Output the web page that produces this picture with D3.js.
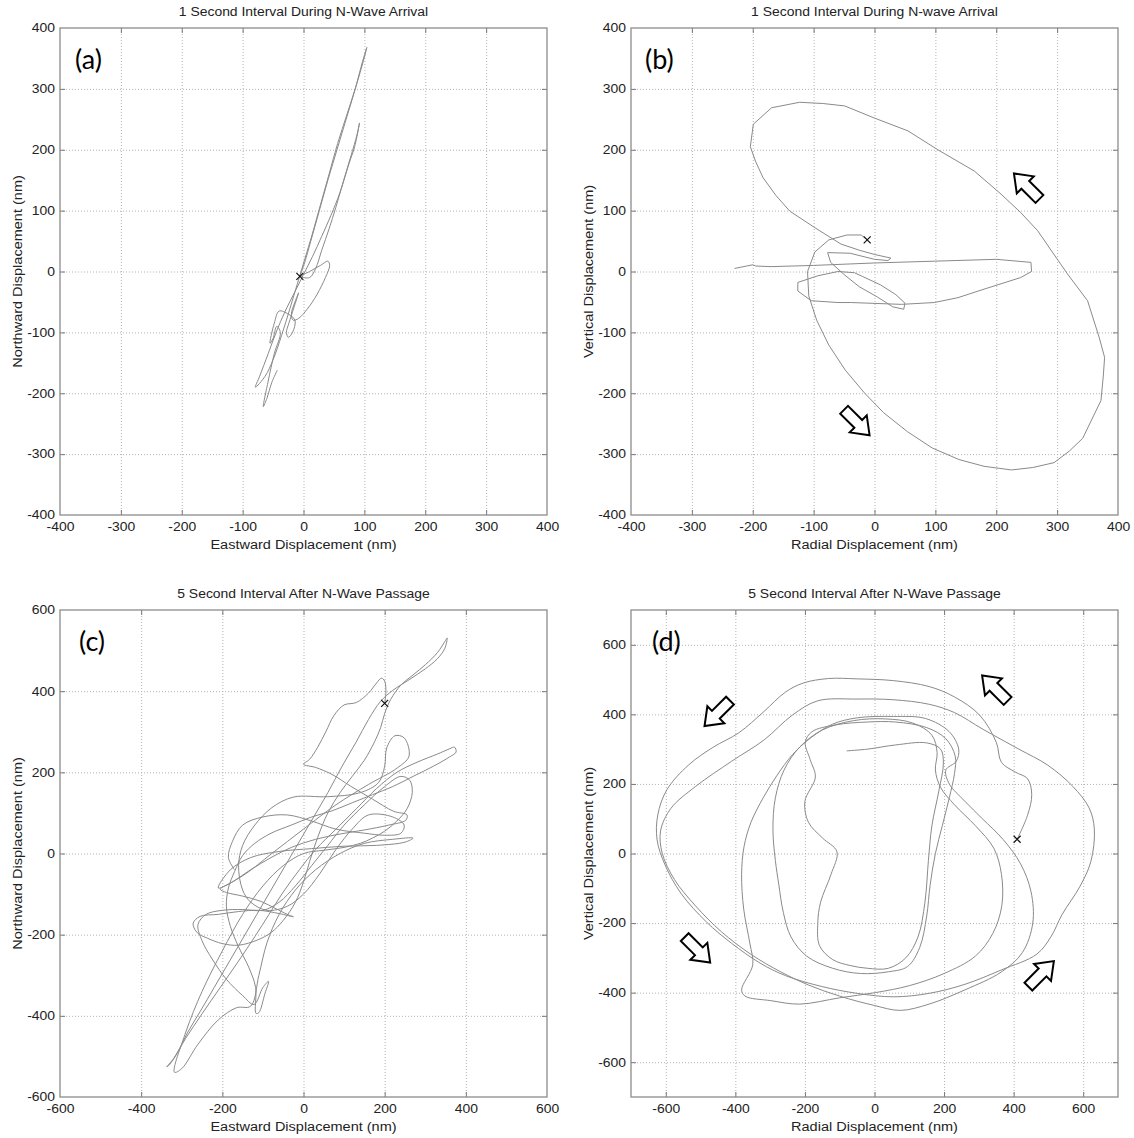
<!DOCTYPE html>
<html>
<head>
<meta charset="utf-8">
<script src="https://cdn.jsdelivr.net/npm/d3@7"></script>
<style>
  body { margin: 0; background: #fff; }
  svg { display: block; }
  text { font-family: "Liberation Sans", Arial, Helvetica, sans-serif; fill: #222; }
  .grid line { stroke: #b4b4b4; stroke-dasharray: 1, 2; }
  .grid .domain, .ticks .domain, .labels .domain { display: none; }
  .ticks line { stroke: #777; }
  .tag { font-family: Lato, "Open Sans", sans-serif; fill: #000; }
</style>
</head>
<body>
<svg id="fig" width="1134" height="1138"></svg>
<script>
// tick values
const ticks400 = [-400, -300, -200, -100, 0, 100, 200, 300, 400];
const ticks600 = [-600, -400, -200, 0, 200, 400, 600];

// particle motion (nm), [x, y]
const pathA = [
  [-6,-8],[2,15],[12,50],[26,100],[40,150],[55,200],[70,250],[85,300],[97,345],[104,368],
  [100,352],[88,310],[72,260],[56,210],[42,160],[28,110],[14,60],[2,20],[-10,-20],[-22,-60],
  [-36,-105],[-50,-145],[-63,-172],[-79,-190],[-72,-172],[-58,-135],[-45,-100],[-30,-65],
  [-15,-35],[0,-5],[15,25],[30,58],[45,92],[60,130],[75,178],[84,205],[92,244],[88,225],
  [78,190],[66,150],[53,105],[42,70],[30,35],[20,5],[10,-10],[-4,-8],[10,0],[28,10],[40,17],
  [43,10],[36,-10],[22,-38],[6,-62],[-8,-77],[-17,-80],[-20,-70],[-14,-50],[-8,-35],[-16,-60],
  [-24,-85],[-28,-100],[-25,-108],[-18,-100],[-14,-80],[-25,-70],[-40,-65],[-48,-85],[-55,-118],
  [-50,-110],[-44,-90],[-38,-100],[-48,-135],[-58,-180],[-66,-222],[-60,-208],[-52,-182],[-43,-162]
];
const pathB = [
  [-12,52],[-22,60],[-45,60],[-75,52],[-98,32],[-110,0],[-108,-40],[-95,-80],[-75,-121],
  [-48,-162],[-16,-200],[15,-232],[54,-263],[95,-290],[139,-309],[180,-320],[225,-326],
  [260,-322],[295,-314],[320,-295],[342,-274],[372,-212],[376,-170],[378,-141],[369,-108],
  [350,-48],[317,-4],[290,35],[268,67],[240,97],[208,127],[164,165],[104,200],[55,231],[0,252],
  [-49,272],[-85,276],[-123,278],[-169,269],[-199,242],[-204,205],[-195,180],[-183,154],
  [-162,125],[-139,99],[-98,72],[-55,45],[-25,35],[0,28],[27,22],[22,18],[0,20],[-40,30],
  [-77,31],[-72,15],[-50,-5],[-25,-25],[5,-42],[30,-58],[48,-62],[50,-52],[35,-38],[10,-22],
  [-20,-8],[-33,-2],[-60,0],[-93,-7],[-126,-18],[-126,-32],[-104,-48],[-60,-51],[-38,-51],
  [44,-54],[98,-51],[137,-43],[180,-29],[240,-10],[258,0],[257,15],[200,20],[100,17],[0,14],
  [-100,10],[-170,8],[-195,9],[-200,11],[-230,5]
];
const pathC = [
  [200,370],[203,398],[200,425],[192,432],[180,420],[160,395],[130,372],[100,366],[75,340],
  [55,300],[35,262],[15,232],[0,220],[30,212],[70,195],[116,166],[170,134],[222,104],[255,95],
  [252,82],[210,70],[150,58],[90,48],[30,35],[-30,15],[-80,-10],[-130,-40],[-175,-70],[-205,-88],
  [-190,-96],[-150,-105],[-105,-118],[-70,-135],[-40,-150],[-25,-156],[-60,-148],[-110,-140],
  [-160,-143],[-210,-150],[-255,-155],[-272,-172],[-262,-195],[-236,-209],[-200,-222],[-160,-226],
  [-113,-213],[-80,-195],[-50,-165],[-20,-120],[0,-70],[15,-20],[35,40],[60,100],[90,150],
  [120,190],[150,230],[175,275],[190,310],[200,345],[215,380],[240,415],[270,440],[300,465],
  [330,495],[350,525],[354,531],[348,505],[330,480],[300,455],[260,428],[220,402],[190,375],
  [160,330],[130,275],[95,215],[60,150],[25,90],[-10,30],[-45,-30],[-80,-90],[-115,-150],
  [-150,-210],[-185,-270],[-220,-330],[-255,-390],[-285,-440],[-310,-490],[-330,-520],[-337,-526],
  [-320,-505],[-290,-455],[-250,-395],[-205,-330],[-160,-265],[-120,-205],[-85,-150],[-50,-95],
  [-10,-40],[30,10],[80,60],[130,110],[180,160],[230,200],[280,225],[330,245],[360,258],[372,262],
  [376,250],[360,238],[320,215],[270,190],[220,165],[170,145],[120,125],[70,105],[20,90],[-30,70],
  [-80,50],[-120,25],[-150,-5],[-170,-45],[-185,-85],[-190,-130],[-180,-180],[-160,-230],
  [-135,-280],[-118,-330],[-117,-394],[-110,-392],[-95,-345],[-86,-315],[-100,-330],[-122,-372],
  [-150,-350],[-190,-310],[-225,-260],[-250,-215],[-260,-175],[-240,-150],[-200,-140],[-150,-138],
  [-100,-140],[-60,-120],[-20,-80],[20,-30],[60,20],[100,70],[150,120],[200,165],[240,190],
  [262,180],[268,150],[255,110],[230,80],[200,55],[170,38],[140,25],[100,15],[50,8],[0,0],
  [-50,-30],[-100,-80],[-150,-150],[-200,-240],[-250,-340],[-290,-440],[-318,-539],[-300,-530],
  [-260,-470],[-210,-410],[-165,-380],[-130,-376],[-110,-300],[-90,-220],[-60,-150],[-20,-90],
  [30,-40],[90,0],[150,25],[220,35],[270,38],[250,28],[180,20],[100,18],[20,12],[-60,5],
  [-130,-10],[-180,-40],[-210,-85],[-150,-55],[-78,0],[0,60],[80,120],[160,170],[230,210],
  [260,240],[248,285],[225,290],[205,260],[200,215],[185,175],[140,150],[60,140],[-25,139],
  [-78,113],[-120,70],[-150,20],[-160,-30],[-150,-90],[-130,-120],[-90,-140],[-40,-130],[0,-100],
  [40,-50],[80,10],[120,60],[160,95],[220,90],[248,70],[240,50],[200,45],[150,50],[80,60],
  [20,80],[-40,95],[-100,90],[-150,70],[-175,30],[-185,-10],[-170,-40]
];
const pathD = [
  [410,41],[440,110],[452,170],[440,215],[405,234],[365,262],[350,320],[302,398],[230,450],
  [157,480],[54,497],[-50,502],[-132,503],[-205,490],[-256,464],[-318,408],[-390,347],[-463,306],
  [-535,254],[-597,183],[-623,111],[-625,39],[-602,-33],[-556,-115],[-483,-197],[-411,-258],
  [-329,-315],[-256,-351],[-153,-382],[-50,-402],[54,-412],[157,-402],[260,-376],[364,-335],
  [467,-289],[508,-238],[539,-176],[591,-94],[622,-23],[632,70],[617,131],[570,193],[498,254],
  [415,300],[312,357],[230,405],[157,429],[54,442],[-50,444],[-163,439],[-236,398],[-318,326],
  [-411,265],[-514,193],[-585,130],[-615,65],[-610,0],[-575,-75],[-515,-150],[-440,-225],
  [-355,-290],[-270,-340],[-190,-378],[-100,-410],[0,-437],[74,-451],[157,-433],[260,-392],
  [364,-341],[425,-285],[455,-200],[450,-110],[420,-30],[370,40],[310,100],[260,150],[215,200],
  [205,240],[235,265],[242,300],[215,350],[147,388],[54,394],[-50,390],[-120,372],[-180,335],
  [-235,285],[-280,225],[-320,160],[-355,90],[-375,20],[-382,-60],[-376,-160],[-358,-260],
  [-350,-320],[-382,-392],[-372,-410],[-298,-423],[-215,-433],[-101,-415],[2,-400],[100,-380],
  [200,-345],[290,-295],[340,-230],[366,-150],[365,-60],[343,15],[290,80],[230,140],[190,190],
  [175,240],[180,290],[165,340],[110,375],[30,387],[-60,382],[-150,355],[-215,306],[-260,240],
  [-285,160],[-292,70],[-285,-20],[-275,-90],[-262,-170],[-240,-240],[-195,-295],[-120,-330],
  [-40,-345],[40,-340],[95,-325],[130,-270],[150,-180],[160,-90],[175,0],[195,80],[215,160],
  [230,230],[232,280],[205,330],[150,362],[60,378],[-20,378],[-110,370],[-180,350],[-199,320],
  [-185,270],[-170,220],[-200,150],[-190,90],[-150,45],[-108,5],[-125,-60],[-155,-140],
  [-163,-200],[-158,-265],[-120,-305],[-70,-322],[-20,-330],[40,-330],[90,-300],[125,-240],
  [145,-140],[155,-20],[165,80],[185,180],[198,260],[190,300],[150,318],[60,312],[-20,300],[-80,295]
];

// start markers (x) and hollow direction arrows (centre in nm, screen angle in degrees)
const startA = [-6, -8];
const startB = [-12, 52];
const startC = [200, 370];
const startD = [410, 41];
const arrowsB = [[250, 140, -135], [-29, -248, 45]];
const arrowsD = [[346, 475, -135], [-452, 403, 135], [-509, -277, 45], [479, -346, -45]];

const titles = [
  "1 Second Interval During N-Wave Arrival",
  "1 Second Interval During N-wave Arrival",
  "5 Second Interval After N-Wave Passage",
  "5 Second Interval After N-Wave Passage"
];

const panels = [
  { tag: "(a)", left: 60, top: 28, domain: [-400, 400], ticks: ticks400, path: pathA, start: startA, arrows: [],
    title: titles[0], xlab: "Eastward Displacement (nm)", ylab: "Northward Displacement (nm)", tagX: 15, curve: d3.curveCatmullRom },
  { tag: "(b)", left: 631, top: 28, domain: [-400, 400], ticks: ticks400, path: pathB, start: startB, arrows: arrowsB,
    title: titles[1], xlab: "Radial Displacement (nm)", ylab: "Vertical Displacement (nm)", tagX: 14, curve: d3.curveLinear },
  { tag: "(c)", left: 60, top: 610, domain: [-600, 600], ticks: ticks600, path: pathC, start: startC, arrows: [],
    title: titles[2], xlab: "Eastward Displacement (nm)", ylab: "Northward Displacement (nm)", tagX: 19, curve: d3.curveCatmullRom },
  { tag: "(d)", left: 631, top: 610, domain: [-700, 700], ticks: ticks600, path: pathD, start: startD, arrows: arrowsD,
    title: titles[3], xlab: "Radial Displacement (nm)", ylab: "Vertical Displacement (nm)", tagX: 21, curve: d3.curveCatmullRom }
];

const size = 487;
const svg = d3.select("#fig");
const plain = (d) => String(d); // hyphen minus like the original, not U+2212

panels.forEach(drawPanel);

function drawPanel(p) {
  const x = d3.scaleLinear().domain(p.domain).range([0, size]);
  const y = d3.scaleLinear().domain(p.domain).range([size, 0]);
  const inner = p.ticks.filter((t) => t > p.domain[0] && t < p.domain[1]);

  const g = svg.append("g").attr("transform", `translate(${p.left},${p.top})`);

  // dotted grid
  g.append("g")
    .attr("class", "grid")
    .attr("transform", `translate(0,${size})`)
    .call(d3.axisBottom(x).tickValues(inner).tickSize(-size).tickFormat(""));
  g.append("g")
    .attr("class", "grid")
    .call(d3.axisLeft(y).tickValues(inner).tickSize(-size).tickFormat(""));

  // small inward ticks on all four sides
  g.append("g").attr("class", "ticks").attr("transform", `translate(0,${size})`)
    .call(d3.axisBottom(x).tickValues(inner).tickSize(-5).tickFormat(""));
  g.append("g").attr("class", "ticks")
    .call(d3.axisTop(x).tickValues(inner).tickSize(-5).tickFormat(""));
  g.append("g").attr("class", "ticks")
    .call(d3.axisLeft(y).tickValues(inner).tickSize(-5).tickFormat(""));
  g.append("g").attr("class", "ticks").attr("transform", `translate(${size},0)`)
    .call(d3.axisRight(y).tickValues(inner).tickSize(-5).tickFormat(""));

  // frame
  g.append("rect")
    .attr("width", size).attr("height", size)
    .attr("fill", "none").attr("stroke", "#8c8c8c").attr("stroke-width", 1.3);

  // tick labels
  const xl = g.append("g").attr("class", "labels").attr("transform", `translate(0,${size})`)
    .call(d3.axisBottom(x).tickValues(p.ticks).tickSize(0).tickPadding(7).tickFormat(plain));
  const yl = g.append("g").attr("class", "labels")
    .call(d3.axisLeft(y).tickValues(p.ticks).tickSize(0).tickPadding(5).tickFormat(plain));
  [xl, yl].forEach((a) => a.selectAll("text").attr("font-size", 12).attr("font-family", null).style("fill", "#222"));

  // the trace
  const line = d3.line().x((d) => x(d[0])).y((d) => y(d[1])).curve(p.curve);
  g.append("path")
    .datum(p.path)
    .attr("d", line)
    .attr("fill", "none")
    .attr("stroke", "#8a8a8a")
    .attr("stroke-width", 1)
    .attr("stroke-linejoin", "round");

  // start marker
  const sx = x(p.start[0]), sy = y(p.start[1]), r = 3.5;
  g.append("path")
    .attr("d", `M${sx - r},${sy - r}L${sx + r},${sy + r}M${sx - r},${sy + r}L${sx + r},${sy - r}`)
    .attr("stroke", "#111").attr("stroke-width", 1.2);

  // hollow arrows
  const arrowShape = "M-18,-5.5L2,-5.5L2,-12L18,0L2,12L2,5.5L-18,5.5Z";
  g.selectAll("path.arrow")
    .data(p.arrows)
    .enter()
    .append("path")
    .attr("class", "arrow")
    .attr("d", arrowShape)
    .attr("transform", (d) => `translate(${x(d[0])},${y(d[1])}) rotate(${d[2]})`)
    .attr("fill", "#fff")
    .attr("stroke", "#000")
    .attr("stroke-width", 2)
    .attr("stroke-linejoin", "miter");

  // title + axis labels
  g.append("text").attr("class", "stretch")
    .attr("x", size / 2).attr("y", -12)
    .attr("text-anchor", "middle").attr("font-size", 12)
    .text(p.title);
  g.append("text").attr("class", "stretch")
    .attr("x", size / 2).attr("y", size + 34)
    .attr("text-anchor", "middle").attr("font-size", 12.5)
    .text(p.xlab);
  g.append("text").attr("class", "stretch")
    .attr("transform", "rotate(-90)")
    .attr("x", -size / 2).attr("y", -38)
    .attr("text-anchor", "middle").attr("font-size", 12.5)
    .text(p.ylab);

  // panel tag
  g.append("text").attr("class", "tag")
    .attr("x", p.tagX).attr("y", 41)
    .attr("font-size", 27)
    .text(p.tag);
}

// the original lettering is a little wider than Arial: stretch it horizontally
svg.selectAll("text:not(.tag)").each(function () {
  const w = this.getComputedTextLength();
  if (w > 0) {
    d3.select(this).attr("textLength", w * 1.16).attr("lengthAdjust", "spacingAndGlyphs");
  }
});
</script>
</body>
</html>
